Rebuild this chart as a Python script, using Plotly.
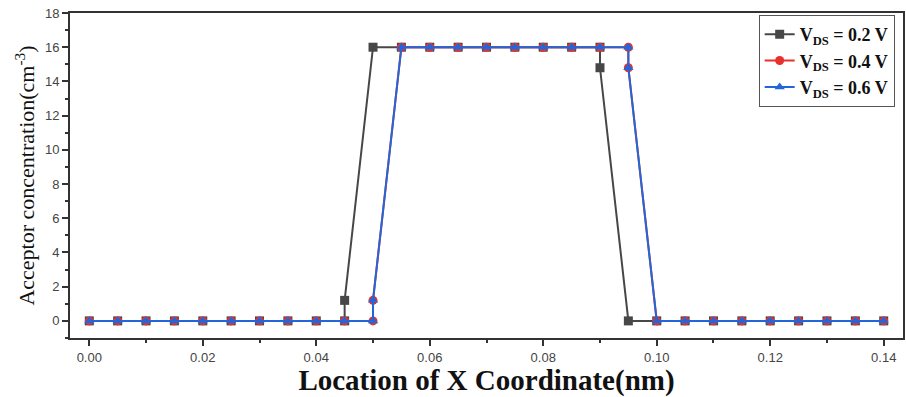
import plotly.graph_objects as go

x_02 = [0.000, 0.005, 0.010, 0.015, 0.020, 0.025, 0.030, 0.035, 0.040, 0.045, 0.045,
        0.050, 0.055, 0.060, 0.065, 0.070, 0.075, 0.080, 0.085, 0.090, 0.090,
        0.095, 0.100, 0.105, 0.110, 0.115, 0.120, 0.125, 0.130, 0.135, 0.140]
y_02 = [0, 0, 0, 0, 0, 0, 0, 0, 0, 0, 1.2,
        16, 16, 16, 16, 16, 16, 16, 16, 16, 14.8,
        0, 0, 0, 0, 0, 0, 0, 0, 0, 0]

x_04 = [0.000, 0.005, 0.010, 0.015, 0.020, 0.025, 0.030, 0.035, 0.040, 0.045, 0.050, 0.050,
        0.055, 0.060, 0.065, 0.070, 0.075, 0.080, 0.085, 0.090, 0.095, 0.095,
        0.100, 0.105, 0.110, 0.115, 0.120, 0.125, 0.130, 0.135, 0.140]
y_04 = [0, 0, 0, 0, 0, 0, 0, 0, 0, 0, 0, 1.2,
        16, 16, 16, 16, 16, 16, 16, 16, 16, 14.8,
        0, 0, 0, 0, 0, 0, 0, 0, 0]

x_06 = list(x_04)
y_06 = list(y_04)

x_ticks = [0, 0.02, 0.04, 0.06, 0.08, 0.10, 0.12, 0.14]
x_tick_labels = ["0.00", "0.02", "0.04", "0.06", "0.08", "0.10", "0.12", "0.14"]
y_ticks = [0, 2, 4, 6, 8, 10, 12, 14, 16, 18]

names = ["<b>V<sub>DS</sub> = 0.2 V</b>", "<b>V<sub>DS</sub> = 0.4 V</b>", "<b>V<sub>DS</sub> = 0.6 V</b>"]
colors = ["#474747", "#e8302c", "#2266d9"]
symbols = ["square", "circle", "triangle-up"]

fig = go.Figure()
for xs, ys, n, c, s in zip([x_02, x_04, x_06], [y_02, y_04, y_06], names, colors, symbols):
    fig.add_trace(go.Scatter(x=xs, y=ys, name=n, mode="lines+markers",
                             line=dict(color=c, width=2),
                             marker=dict(symbol=s, size=9, color=c)))

axis_common = dict(showline=True, linecolor="#333333", linewidth=2, mirror=True,
                   ticks="outside", tickcolor="#333333", ticklen=6, tickwidth=1.5,
                   showgrid=False, zeroline=False, automargin=False,
                   tickfont=dict(family="Liberation Sans, Arial", size=13, color="#444444"))

fig.update_xaxes(range=[-0.0034, 0.1434], tickmode="array",
                 tickvals=x_ticks, ticktext=x_tick_labels,
                 minor=dict(tickvals=[0.01, 0.03, 0.05, 0.07, 0.09, 0.11, 0.13],
                            ticks="outside", ticklen=3, tickcolor="#333333"),
                 title=dict(text="<b>Location of X Coordinate(nm)</b>",
                            font=dict(family="Liberation Serif, Times New Roman", size=29, color="#111111"),
                            standoff=2),
                 **axis_common)
fig.update_yaxes(range=[-1, 18], tickmode="array",
                 tickvals=y_ticks,
                 minor=dict(tickvals=[-1, 1, 3, 5, 7, 9, 11, 13, 15, 17],
                            ticks="outside", ticklen=3, tickcolor="#333333"),
                 title=dict(text="Acceptor concentration(cm<sup>-3</sup>)",
                            font=dict(family="Liberation Serif, Times New Roman", size=22, color="#111111"),
                            standoff=4),
                 **axis_common)

fig.update_layout(width=906, height=397, margin=dict(l=70, r=3, t=13, b=59),
                  plot_bgcolor="white", paper_bgcolor="white",
                  legend=dict(x=0.99, y=0.994, xanchor="right", yanchor="top",
                              bordercolor="#555555", borderwidth=1, bgcolor="white",
                              font=dict(family="Liberation Serif, Times New Roman", size=18, color="#111111"),
                              tracegroupgap=0))

fig.write_html("out.html", config={"displayModeBar": False},
               post_script="document.body.style.margin='0';")
